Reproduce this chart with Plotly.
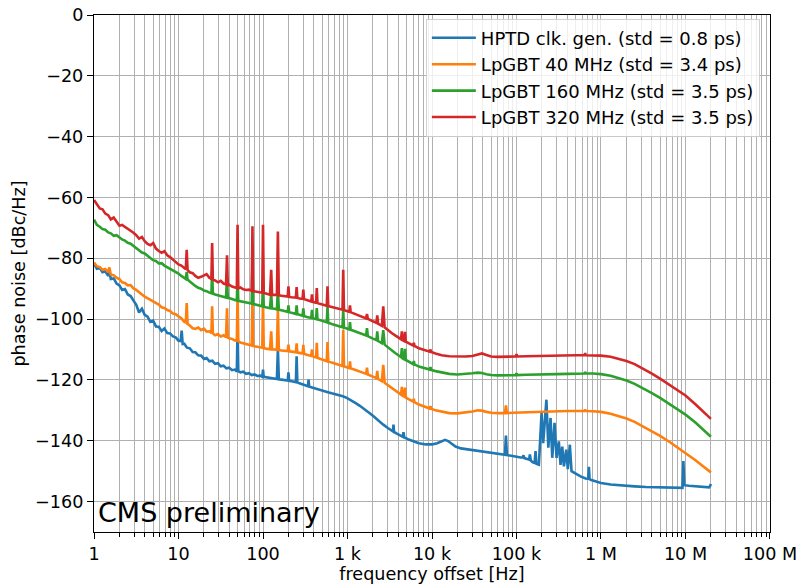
import plotly.graph_objects as go

# ---------------- data: (frequency offset [Hz], phase noise [dBc/Hz]) ----------------
hptd = [
    (1.0, -81.8), (1.08, -83.4), (1.17, -83.1), (1.26, -84.6), (1.36, -84.3), (1.47, -85.8),
    (1.52, -84.4), (1.58, -86.8), (1.71, -86.6), (1.85, -88.3), (2.0, -88.9), (2.15, -90.4),
    (2.32, -90.1), (2.51, -91.9), (2.71, -92.4), (2.93, -94.1), (3.16, -95.3), (3.41, -97.8),
    (3.69, -96.6), (3.98, -98.6), (4.3, -99.2), (4.64, -100.9), (5.01, -100.5), (5.41, -102.4),
    (5.84, -102.5), (6.31, -103.9), (6.81, -103.1), (7.36, -104.6), (7.94, -104.7), (8.58, -105.7),
    (9.26, -106.0), (10.0, -107.1), (10.6, -107.2), (10.9, -103.8), (11.2, -108.2), (11.7, -108.1),
    (12.6, -109.4), (13.6, -109.6), (14.7, -110.8), (15.8, -110.9), (17.1, -111.9), (18.5, -112.0),
    (20.0, -113.1), (21.5, -112.8), (23.2, -113.9), (25.1, -113.7), (27.1, -114.7), (29.3, -114.5),
    (31.6, -115.5), (34.1, -115.3), (36.9, -116.2), (39.8, -116.0), (43.0, -116.8), (46.4, -116.6),
    (49.0, -117.2), (50.0, -102.4), (51.0, -117.1), (54.1, -117.5), (58.4, -117.3), (63.1, -118.0),
    (68.1, -117.8), (73.6, -118.4), (79.4, -118.2), (85.8, -118.7), (92.6, -118.6), (98.0, -119.0),
    (100.0, -116.6), (102.0, -119.0), (108.0, -119.1), (116.0, -119.3), (125.0, -119.4), (136.0, -119.6),
    (146.0, -119.7), (150.0, -109.8), (154.0, -119.8), (165.0, -119.9), (185.0, -120.1), (196.0, -120.2),
    (200.0, -117.5), (204.0, -120.3), (218.0, -120.4), (232.0, -120.6), (245.0, -120.7), (250.0, -112.2),
    (255.0, -120.8), (270.0, -121.1), (300.0, -121.6), (330.0, -122.0), (340.0, -122.1), (346.0, -119.9),
    (352.0, -122.2), (372.0, -122.4), (410.0, -122.7), (480.0, -123.3), (525.0, -123.6), (600.0, -124.1),
    (650.0, -124.4), (720.0, -124.7), (790.0, -125.0), (880.0, -125.4), (980.0, -125.9), (1100.0, -126.6),
    (1250.0, -127.6), (1400.0, -128.5), (1600.0, -129.6), (1800.0, -130.8), (2000.0, -131.8), (2200.0, -132.8),
    (2400.0, -133.8), (2650.0, -134.7), (3000.0, -135.8), (3300.0, -136.6), (3450.0, -136.9), (3500.0, -134.7),
    (3550.0, -137.1), (3800.0, -137.6), (4200.0, -138.3), (4500.0, -138.7), (4600.0, -137.2), (4700.0, -138.9),
    (5200.0, -139.5), (6000.0, -140.2), (7000.0, -140.8), (8500.0, -141.2), (10000.0, -141.2), (11500.0, -140.8),
    (13000.0, -140.1), (14300.0, -139.7), (15500.0, -140.1), (17000.0, -141.0), (19000.0, -141.9), (22000.0, -142.5),
    (26000.0, -142.8), (31000.0, -143.1), (37000.0, -143.4), (45000.0, -143.8), (55000.0, -144.2), (65000.0, -144.5),
    (73000.0, -144.6), (75000.0, -138.3), (77000.0, -144.7), (90000.0, -145.0), (100000.0, -145.3), (112000.0, -145.5),
    (118000.0, -145.5), (121000.0, -144.8), (124000.0, -145.7), (135000.0, -146.0), (141000.0, -146.2), (144000.0, -144.5),
    (148000.0, -146.6), (158000.0, -147.2), (164000.0, -147.3), (168000.0, -143.4), (172000.0, -147.6), (184000.0, -147.9),
    (198000.0, -130.9), (207000.0, -140.8), (226000.0, -126.5), (238000.0, -142.3), (253000.0, -132.5), (265000.0, -145.6),
    (282000.0, -134.1), (298000.0, -145.6), (317000.0, -140.2), (332000.0, -147.9), (348000.0, -141.9), (364000.0, -148.4),
    (388000.0, -142.9), (405000.0, -149.3), (428000.0, -141.3), (448000.0, -150.0), (500000.0, -150.8), (573000.0, -151.7),
    (657000.0, -152.4), (705000.0, -152.5), (719000.0, -148.6), (733000.0, -152.6), (753000.0, -152.8), (1.0e6, -153.9),
    (1.3e6, -154.4), (1.8e6, -154.8), (2.5e6, -155.0), (3.4e6, -155.2), (5.0e6, -155.4), (7.0e6, -155.5),
    (9.2e6, -155.5), (9.44e6, -146.7), (9.7e6, -154.6), (11e6, -154.8), (13e6, -155.0), (16e6, -155.2),
    (19e6, -155.3), (19.6e6, -154.8), (20e6, -154.2),
]

lpgbt40 = [
    (1.0, -81.4), (1.08, -82.6), (1.17, -82.9), (1.26, -83.8), (1.36, -83.5), (1.47, -84.6),
    (1.52, -83.0), (1.58, -85.3), (1.71, -85.6), (1.85, -86.4), (2.0, -86.8), (2.15, -87.9),
    (2.32, -88.1), (2.51, -88.9), (2.71, -88.8), (2.93, -89.9), (3.16, -90.4), (3.41, -91.3),
    (3.69, -91.9), (3.98, -92.6), (4.3, -93.1), (4.64, -93.8), (5.01, -94.1), (5.41, -94.7),
    (5.84, -95.2), (6.31, -96.1), (6.81, -96.3), (7.36, -97.0), (7.94, -97.3), (8.58, -98.2),
    (9.26, -98.4), (10.0, -99.1), (10.8, -99.7), (11.7, -100.9), (12.2, -101.1), (12.5, -94.7),
    (12.8, -101.6), (13.6, -102.1), (14.7, -103.0), (15.8, -103.2), (17.1, -102.8), (18.5, -103.6),
    (20.0, -103.1), (21.5, -104.1), (23.2, -104.0), (24.5, -104.6), (25.0, -95.8), (25.5, -104.7),
    (27.1, -105.3), (29.3, -104.9), (31.6, -105.7), (34.1, -105.3), (36.5, -106.0), (37.5, -96.4),
    (38.3, -106.1), (39.8, -106.3), (43.0, -106.5), (46.4, -107.0), (49.0, -107.1), (50.0, -91.5),
    (51.0, -107.3), (54.1, -107.7), (58.4, -107.9), (63.1, -108.1), (68.1, -108.3), (73.5, -108.7),
    (75.0, -93.1), (76.5, -108.8), (79.4, -108.9), (85.8, -109.0), (92.6, -109.3), (98.0, -109.4),
    (100.0, -93.6), (102.0, -109.5), (108.0, -109.7), (116.0, -109.8), (121.0, -109.9), (125.0, -104.0),
    (128.0, -110.0), (136.0, -110.0), (146.0, -110.1), (150.0, -96.4), (154.0, -110.2), (165.0, -110.3),
    (185.0, -110.4), (196.0, -110.5), (200.0, -108.4), (204.0, -110.6), (218.0, -110.7), (232.0, -110.8),
    (245.0, -110.9), (250.0, -108.0), (255.0, -111.0), (270.0, -111.1), (294.0, -111.3), (300.0, -108.5),
    (306.0, -111.4), (330.0, -111.7), (372.0, -112.1), (380.0, -110.0), (388.0, -112.2), (410.0, -112.5),
    (425.0, -112.6), (433.0, -107.8), (441.0, -112.7), (480.0, -113.1), (525.0, -113.5), (568.0, -113.8),
    (580.0, -107.5), (592.0, -113.9), (650.0, -114.3), (720.0, -114.7), (790.0, -115.0), (872.0, -115.4),
    (890.0, -103.5), (908.0, -115.5), (980.0, -115.8), (1050.0, -116.1), (1070.0, -113.9), (1090.0, -116.2),
    (1200.0, -116.6), (1400.0, -117.2), (1660.0, -118.0), (1700.0, -116.0), (1740.0, -118.2), (2000.0, -118.9),
    (2200.0, -119.4), (2250.0, -117.0), (2300.0, -119.7), (2550.0, -120.4), (2650.0, -115.0), (2750.0, -120.9),
    (3000.0, -121.7), (3300.0, -122.6), (3700.0, -123.5), (4000.0, -124.2), (4300.0, -124.8), (4400.0, -122.3),
    (4500.0, -125.2), (4700.0, -125.5), (4800.0, -122.5), (4900.0, -125.8), (5400.0, -126.5), (6000.0, -127.1),
    (6100.0, -126.2), (6200.0, -127.3), (7000.0, -128.1), (8000.0, -128.8), (9400.0, -129.4), (9600.0, -128.6),
    (9800.0, -129.5), (11000.0, -130.0), (13000.0, -130.5), (16000.0, -130.9), (20000.0, -131.0), (25000.0, -130.8),
    (30000.0, -130.4), (35000.0, -130.0), (39000.0, -130.1), (44000.0, -130.5), (50000.0, -130.8), (60000.0, -130.9),
    (73000.0, -130.9), (75000.0, -128.4), (77000.0, -130.9), (90000.0, -130.8), (110000.0, -130.7), (130000.0, -130.6),
    (170000.0, -130.5), (220000.0, -130.4), (300000.0, -130.3), (400000.0, -130.2), (500000.0, -130.2), (640000.0, -130.2),
    (650000.0, -129.7), (660000.0, -130.2), (800000.0, -130.3), (1.0e6, -130.5), (1.3e6, -131.1), (1.6e6, -131.8),
    (2.0e6, -132.7), (2.5e6, -133.8), (3.2e6, -135.4), (4.0e6, -136.9), (5.0e6, -138.4), (6.5e6, -140.4),
    (8.0e6, -142.1), (10e6, -143.9), (13e6, -146.3), (16e6, -148.3), (20e6, -150.4),
]

lpgbt160 = [
    (1.0, -67.3), (1.08, -69.0), (1.17, -69.6), (1.26, -70.4), (1.36, -70.6), (1.47, -71.5),
    (1.58, -71.8), (1.71, -72.6), (1.85, -72.4), (2.0, -73.2), (2.15, -73.8), (2.32, -74.2),
    (2.51, -74.9), (2.71, -75.2), (2.93, -75.9), (3.16, -76.6), (3.41, -77.3), (3.69, -78.1),
    (3.98, -78.4), (4.3, -79.3), (4.64, -79.9), (5.01, -80.6), (5.41, -80.9), (5.84, -81.7),
    (6.31, -81.6), (6.81, -82.4), (7.36, -82.9), (7.94, -83.5), (8.58, -83.9), (9.26, -84.6),
    (10.0, -85.0), (10.8, -85.8), (11.7, -86.3), (12.2, -86.8), (12.5, -84.5), (12.8, -87.0),
    (13.6, -87.6), (14.7, -88.5), (15.8, -89.1), (17.1, -89.7), (18.5, -90.0), (20.0, -90.6),
    (21.5, -90.8), (23.2, -91.3), (24.5, -91.5), (25.0, -84.3), (25.5, -91.6), (27.1, -91.9),
    (29.3, -92.2), (31.6, -92.4), (34.1, -92.6), (36.5, -92.9), (37.5, -86.0), (38.3, -93.0),
    (39.8, -93.1), (43.0, -93.3), (46.4, -93.7), (49.0, -93.9), (50.0, -86.0), (51.0, -94.0),
    (54.1, -94.1), (58.4, -94.3), (63.1, -94.5), (68.1, -94.7), (73.5, -94.9), (75.0, -81.0),
    (76.5, -95.0), (79.4, -95.1), (85.8, -95.3), (92.6, -95.6), (98.0, -95.8), (100.0, -87.0),
    (102.0, -95.9), (108.0, -96.1), (116.0, -96.3), (121.0, -96.4), (125.0, -91.5), (128.0, -96.5),
    (136.0, -96.6), (146.0, -96.8), (150.0, -90.3), (154.0, -96.9), (165.0, -97.1), (185.0, -97.4),
    (196.0, -97.6), (200.0, -95.5), (204.0, -97.7), (218.0, -97.9), (232.0, -98.1), (245.0, -98.3),
    (250.0, -95.5), (255.0, -98.4), (270.0, -98.6), (294.0, -98.9), (300.0, -96.5), (306.0, -99.0),
    (330.0, -99.3), (372.0, -99.6), (380.0, -97.0), (388.0, -99.7), (410.0, -99.9), (425.0, -100.0),
    (433.0, -96.4), (441.0, -100.1), (480.0, -100.4), (525.0, -100.8), (568.0, -101.0), (580.0, -96.0),
    (592.0, -101.2), (650.0, -101.6), (720.0, -102.0), (790.0, -102.3), (872.0, -102.7), (890.0, -97.0),
    (908.0, -102.8), (980.0, -103.1), (1050.0, -103.4), (1070.0, -101.0), (1090.0, -103.5), (1200.0, -103.9),
    (1400.0, -104.6), (1660.0, -105.4), (1700.0, -103.0), (1740.0, -105.6), (2000.0, -106.4), (2200.0, -106.9),
    (2250.0, -104.0), (2300.0, -107.2), (2550.0, -107.9), (2650.0, -103.6), (2750.0, -108.4), (3000.0, -109.3),
    (3300.0, -110.3), (3700.0, -111.2), (4000.0, -111.9), (4300.0, -112.5), (4400.0, -109.5), (4500.0, -112.9),
    (4700.0, -113.2), (4800.0, -109.8), (4900.0, -113.4), (5400.0, -114.2), (6000.0, -114.8), (6100.0, -113.8),
    (6200.0, -114.9), (7000.0, -115.6), (8000.0, -116.1), (9400.0, -116.6), (9600.0, -115.8), (9800.0, -116.7),
    (11000.0, -117.1), (13000.0, -117.6), (16000.0, -118.0), (20000.0, -118.2), (25000.0, -118.1), (30000.0, -117.8),
    (35000.0, -117.6), (39000.0, -117.7), (44000.0, -118.1), (50000.0, -118.4), (60000.0, -118.5), (75000.0, -118.5),
    (90000.0, -118.4), (98000.0, -118.4), (100000.0, -117.8), (102000.0, -118.4), (130000.0, -118.3), (170000.0, -118.3),
    (220000.0, -118.2), (300000.0, -118.1), (400000.0, -118.0), (500000.0, -117.9), (640000.0, -117.9), (650000.0, -117.4),
    (660000.0, -117.9), (800000.0, -117.9), (1.0e6, -118.1), (1.3e6, -118.6), (1.6e6, -119.3), (2.0e6, -120.2),
    (2.5e6, -121.3), (3.2e6, -122.8), (4.0e6, -124.3), (5.0e6, -125.9), (6.5e6, -127.9), (8.0e6, -129.6),
    (10e6, -131.4), (13e6, -133.9), (16e6, -136.1), (20e6, -138.7),
]

lpgbt320 = [
    (1.0, -60.8), (1.08, -62.3), (1.17, -63.6), (1.26, -63.9), (1.36, -65.3), (1.47, -65.8),
    (1.58, -67.2), (1.71, -66.6), (1.85, -68.1), (2.0, -69.3), (2.15, -69.0), (2.32, -69.6),
    (2.51, -70.2), (2.71, -70.8), (2.93, -71.6), (3.16, -72.4), (3.41, -73.5), (3.69, -73.0),
    (3.98, -74.4), (4.3, -75.3), (4.64, -75.7), (5.01, -75.0), (5.41, -76.8), (5.84, -77.6),
    (6.31, -78.2), (6.81, -77.7), (7.36, -79.0), (7.94, -79.6), (8.58, -80.4), (9.26, -81.2),
    (10.0, -82.0), (10.8, -82.4), (11.7, -83.3), (12.2, -83.6), (12.5, -77.2), (12.8, -83.8),
    (13.6, -84.6), (14.7, -84.9), (15.8, -85.8), (17.1, -86.4), (18.5, -86.1), (20.0, -85.7),
    (21.5, -85.2), (23.2, -86.4), (24.5, -86.8), (25.0, -75.0), (25.5, -87.0), (27.1, -87.3),
    (29.3, -87.9), (31.6, -87.4), (34.1, -88.3), (36.5, -88.6), (37.5, -79.0), (38.3, -88.9),
    (39.8, -88.7), (43.0, -89.3), (46.4, -89.6), (49.0, -89.8), (50.0, -69.0), (51.0, -89.9),
    (54.1, -89.6), (58.4, -90.2), (63.1, -90.4), (68.1, -90.3), (73.5, -90.7), (75.0, -69.5),
    (76.5, -90.8), (79.4, -90.9), (85.8, -91.0), (92.6, -91.2), (98.0, -91.3), (100.0, -69.0),
    (102.0, -91.4), (108.0, -91.6), (116.0, -91.9), (121.0, -92.0), (125.0, -83.8), (128.0, -92.1),
    (136.0, -92.0), (146.0, -92.1), (150.0, -71.2), (154.0, -92.2), (165.0, -92.3), (185.0, -92.5),
    (196.0, -92.6), (200.0, -89.2), (204.0, -92.7), (218.0, -92.8), (232.0, -92.8), (245.0, -92.9),
    (250.0, -89.5), (255.0, -93.0), (270.0, -93.2), (294.0, -93.3), (300.0, -90.3), (306.0, -93.4),
    (330.0, -93.7), (372.0, -94.2), (380.0, -91.9), (388.0, -94.3), (410.0, -94.5), (425.0, -94.6),
    (433.0, -89.8), (441.0, -94.7), (480.0, -95.0), (525.0, -95.3), (568.0, -95.6), (580.0, -89.2),
    (592.0, -95.7), (650.0, -96.0), (720.0, -96.3), (790.0, -96.6), (872.0, -96.9), (890.0, -83.8),
    (908.0, -97.0), (980.0, -97.3), (1050.0, -97.6), (1070.0, -95.5), (1090.0, -97.7), (1200.0, -98.2),
    (1400.0, -98.9), (1660.0, -99.8), (1700.0, -98.3), (1740.0, -99.9), (2000.0, -100.7), (2200.0, -101.2),
    (2250.0, -98.8), (2300.0, -101.5), (2550.0, -102.2), (2650.0, -95.8), (2750.0, -102.7), (3000.0, -103.7),
    (3300.0, -104.5), (3700.0, -105.4), (4000.0, -106.0), (4300.0, -106.6), (4400.0, -104.0), (4500.0, -106.9),
    (4700.0, -107.2), (4800.0, -104.2), (4900.0, -107.4), (5400.0, -108.1), (6000.0, -108.7), (6100.0, -107.8),
    (6200.0, -108.8), (7000.0, -109.6), (8000.0, -110.2), (9400.0, -110.7), (9600.0, -110.0), (9800.0, -110.8),
    (11000.0, -111.3), (13000.0, -111.9), (16000.0, -112.2), (20000.0, -112.3), (25000.0, -112.3), (30000.0, -112.1),
    (35000.0, -111.7), (39000.0, -111.3), (44000.0, -111.8), (50000.0, -112.3), (60000.0, -112.4), (75000.0, -112.4),
    (90000.0, -112.3), (98000.0, -112.3), (100000.0, -111.5), (102000.0, -112.3), (130000.0, -112.2), (170000.0, -112.1),
    (220000.0, -112.1), (300000.0, -112.0), (400000.0, -111.9), (500000.0, -111.9), (640000.0, -111.9), (650000.0, -111.2),
    (660000.0, -111.9), (800000.0, -111.9), (1.0e6, -112.0), (1.3e6, -112.4), (1.6e6, -113.0), (2.0e6, -113.8),
    (2.5e6, -114.8), (3.2e6, -116.4), (4.0e6, -117.9), (5.0e6, -119.6), (6.5e6, -121.6), (8.0e6, -123.3),
    (10e6, -125.1), (13e6, -127.9), (16e6, -130.3), (20e6, -132.8),
]

series_names = [
    "HPTD clk. gen. (std = 0.8 ps)",
    "LpGBT 40 MHz (std = 3.4 ps)",
    "LpGBT 160 MHz (std = 3.5 ps)",
    "LpGBT 320 MHz (std = 3.5 ps)",
]
series_data = [hptd, lpgbt40, lpgbt160, lpgbt320]
series_colors = ["#1f77b4", "#ff7f0e", "#2ca02c", "#d62728"]

x_tickvals = [1, 10, 100, 1e3, 1e4, 1e5, 1e6, 1e7, 1e8]
x_ticktext = ["1", "10", "100", "1 k", "10 k", "100 k", "1 M", "10 M", "100 M"]
x_minor = [m * 10 ** d for d in range(0, 8) for m in range(2, 10)]
y_tickvals = [0, -20, -40, -60, -80, -100, -120, -140, -160]

FONT = "DejaVu Sans"
FS = 17.6
fig = go.Figure()
for name, pts, col in zip(series_names, series_data, series_colors):
    fig.add_trace(go.Scatter(
        x=[p[0] for p in pts], y=[p[1] for p in pts], mode="lines", name=name,
        line=dict(color=col, width=2.6),
    ))

axis_common = dict(
    showline=True, linecolor="black", linewidth=1.3, mirror=True,
    ticks="outside", ticklen=6, tickwidth=1.3, tickcolor="black",
    showgrid=True, gridcolor="#b0b0b0", gridwidth=1.3, zeroline=False,
    tickfont=dict(family=FONT, size=FS, color="black"), automargin=False,
    ticklabeloverflow="allow",
)

fig.update_xaxes(
    type="log", range=[-0.0002, 8.0002], tickmode="array", tickvals=x_tickvals, ticktext=x_ticktext,
    minor=dict(tickmode="array", tickvals=x_minor, ticks="outside", ticklen=3.5, tickwidth=1.1,
               tickcolor="black", showgrid=True, gridcolor="#b0b0b0", gridwidth=1.3),
    title=dict(text="frequency offset [Hz]", font=dict(family=FONT, size=FS, color="black"), standoff=4),
    **axis_common,
)
fig.update_yaxes(
    range=[-170, 0.0001], tickmode="array", tickvals=y_tickvals,
    title=dict(text="phase noise [dBc/Hz]", font=dict(family=FONT, size=FS, color="black"), standoff=4),
    **axis_common,
)

fig.add_shape(type="rect", xref="paper", yref="paper", x0=0, x1=0.339, y0=0, y1=0.078,
              fillcolor="white", line=dict(width=0), layer="between")
fig.add_annotation(text="CMS preliminary", xref="paper", yref="paper", x=0.003, y=0,
                   xanchor="left", yanchor="bottom", showarrow=False, yshift=2,
                   font=dict(family=FONT, size=27, color="black"))

fig.update_layout(
    width=796, height=587,
    margin=dict(l=94, r=26, t=15, b=55, autoexpand=False),
    paper_bgcolor="white", plot_bgcolor="white",
    font=dict(family=FONT, size=FS, color="black"),
    showlegend=True,
    legend=dict(x=0.985, y=0.993, xanchor="right", yanchor="top", itemwidth=44,
                bgcolor="rgba(255,255,255,0.8)", bordercolor="rgba(204,204,204,0.9)", borderwidth=1,
                font=dict(family=FONT, size=18, color="black")),
)

# remove the default 8 px page margin so the 796x587 figure fills the window exactly
fig.write_html("out.html", config={"displayModeBar": False},
               post_script="document.body.style.margin='0';")
